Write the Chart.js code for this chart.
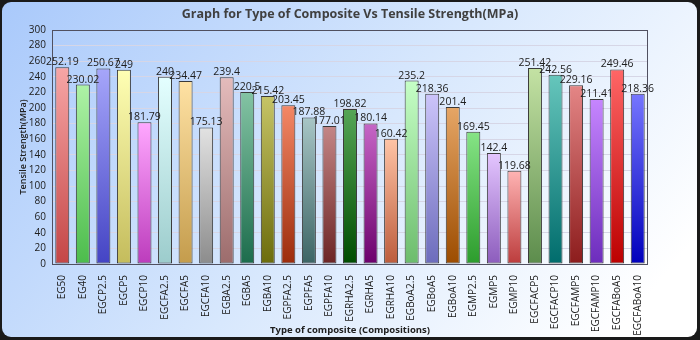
<!DOCTYPE html>
<html>
<head>
<meta charset="utf-8">
<script src="https://cdn.jsdelivr.net/npm/chart.js@4/dist/chart.umd.min.js"></script>
<style>
  html, body { margin: 0; padding: 0; background: #1a1a1a; }
  #wrap { width: 700px; height: 340px; }
</style>
</head>
<body>
<div id="wrap"><canvas id="myChart" width="700" height="340"></canvas></div>
<script>
const composites = [
  "EG50", "EG40", "EGCP2.5", "EGCP5", "EGCP10", "EGCFA2.5", "EGCFA5", "EGCFA10",
  "EGBA2.5", "EGBA5", "EGBA10", "EGPFA2.5", "EGPFA5", "EGPFA10", "EGRHA2.5",
  "EGRHA5", "EGRHA10", "EGBoA2.5", "EGBoA5", "EGBoA10", "EGMP2.5", "EGMP5",
  "EGMP10", "EGCFACP5", "EGCFACP10", "EGCFAMP5", "EGCFAMP10", "EGCFABoA5", "EGCFABoA10",
];
const tensileStrength = [
  252.19, 230.02, 250.67, 249, 181.79, 240, 234.47, 175.13,
  239.4, 220.5, 215.42, 203.45, 187.88, 177.01, 198.82,
  180.14, 160.42, 235.2, 218.36, 201.4, 169.45, 142.4,
  119.68, 251.42, 242.56, 229.16, 211.41, 249.46, 218.36,
];
const yTicks = [0, 20, 40, 60, 80, 100, 120, 140, 160, 180, 200, 220, 240, 260, 280, 300];

// top / bottom colour of each bar's gradient
const colorTop = [
  "#f7a6a6", "#aef2a6", "#a6a6fa", "#ffffb4", "#ffa8ff", "#e4ffff", "#ffe2a4", "#e2e2e2",
  "#e4bcbc", "#84c4a4", "#c6c466", "#f48866", "#a8c6c6", "#c48686", "#56a656",
  "#c666c6", "#ffc4a6", "#c6ffc6", "#ccc4fa", "#e6a666", "#86e486", "#e4c6ff",
  "#ffb4b4", "#c4e2a4", "#66c6bc", "#e48686", "#c686ff", "#ff6666", "#7676ff",
];
const colorBottom = [
  "#c44646", "#4cbc4c", "#4444c4", "#c4bc5c", "#bc3cbc", "#9ccccc", "#c49c4c", "#8c8c8c",
  "#9c6c6c", "#1c6c4c", "#6c6c0c", "#9c2c0c", "#3c6464", "#6c2424", "#004c00",
  "#6c006c", "#bc5c3c", "#6cbc6c", "#6c6cbc", "#9c4c00", "#2c9c2c", "#8c5cbc",
  "#bc3c3c", "#5c8c4c", "#006c6c", "#8c1c1c", "#6c2cbc", "#bc0000", "#0000bc",
];

const FONT = "'Open Sans', 'DejaVu Sans', sans-serif";

const panelPlugin = {
  id: "panel",
  beforeDraw(chart) {
    const ctx = chart.ctx;
    const w = chart.width;
    const h = chart.height;
    ctx.save();
    ctx.fillStyle = "#1a1a1a";
    ctx.fillRect(0, 0, w, h);
    const g = ctx.createLinearGradient(0, 0, w * 0.75, h * 1.3);
    g.addColorStop(0, "#a9c9fb");
    g.addColorStop(0.55, "#d8e8fd");
    g.addColorStop(1, "#ffffff");
    ctx.fillStyle = g;
    ctx.beginPath();
    ctx.roundRect(2, 2, w - 5, h - 5, 9);
    ctx.fill();
    // title
    ctx.fillStyle = "#404040";
    ctx.font = "bold 12.5px " + FONT;
    ctx.textAlign = "center";
    ctx.textBaseline = "middle";
    ctx.fillText("Graph for Type of Composite Vs Tensile Strength(MPa)", 350, 14);
    ctx.restore();
  },
  afterDraw(chart) {
    const ctx = chart.ctx;
    const a = chart.chartArea;
    ctx.save();
    ctx.strokeStyle = "#505060";
    ctx.lineWidth = 1;
    ctx.strokeRect(a.left + 0.5, a.top + 0.5, a.right - a.left - 1, a.bottom - a.top);
    // value labels
    ctx.fillStyle = "#202020";
    ctx.font = "10.5px " + FONT;
    ctx.textAlign = "center";
    ctx.textBaseline = "alphabetic";
    const meta = chart.getDatasetMeta(0);
    meta.data.forEach((bar, i) => {
      ctx.fillText(String(tensileStrength[i]), bar.x, bar.y - 2);
    });
    ctx.restore();
  },
};

function barGradient(context) {
  const chart = context.chart;
  const i = context.dataIndex;
  if (!chart.chartArea || i === undefined) return colorBottom[i || 0];
  const y = chart.scales.y;
  const top = y.getPixelForValue(tensileStrength[i]);
  const bottom = y.getPixelForValue(0);
  const g = chart.ctx.createLinearGradient(0, top, 0, bottom);
  g.addColorStop(0, colorTop[i]);
  g.addColorStop(1, colorBottom[i]);
  return g;
}

new Chart("myChart", {
  type: "bar",
  data: {
    labels: composites,
    datasets: [
      {
        label: "Tensile Strength",
        data: tensileStrength,
        backgroundColor: barGradient,
        borderColor: "#3a3a3a",
        borderWidth: 1,
        borderSkipped: false,
        barPercentage: 0.68,
        categoryPercentage: 1,
      },
    ],
  },
  options: {
    responsive: false,
    animation: false,
    layout: { padding: { top: 30, left: 0, right: 52, bottom: 4 } },
    plugins: {
      legend: { display: false },
      tooltip: { enabled: false },
    },
    scales: {
      x: {
        grid: { display: false },
        border: { display: false },
        ticks: {
          color: "#202020",
          font: { family: FONT, size: 10 },
          maxRotation: 90,
          minRotation: 90,
          autoSkip: false,
          padding: 3,
        },
        title: {
          display: true,
          text: "Type of composite (Compositions)",
          color: "#202020",
          font: { family: FONT, size: 9.5, weight: "bold" },
          padding: { top: 0, bottom: 0 },
        },
        afterFit(scale) {
          scale.height = 72;
        },
      },
      y: {
        min: 0,
        max: 300,
        afterBuildTicks(scale) {
          scale.ticks = yTicks.map((v) => ({ value: v }));
        },
        grid: { color: "#d6d6e6", drawTicks: false },
        border: { display: false },
        ticks: {
          color: "#202020",
          font: { family: FONT, size: 10 },
          padding: 6,
        },
        title: {
          display: true,
          text: "Tensile Strength(MPa)",
          color: "#202020",
          font: { family: FONT, size: 9, weight: "600" },
          padding: { top: 18, bottom: 0 },
        },
        afterFit(scale) {
          scale.width = 52;
        },
      },
    },
  },
  plugins: [panelPlugin],
});
</script>
</body>
</html>
